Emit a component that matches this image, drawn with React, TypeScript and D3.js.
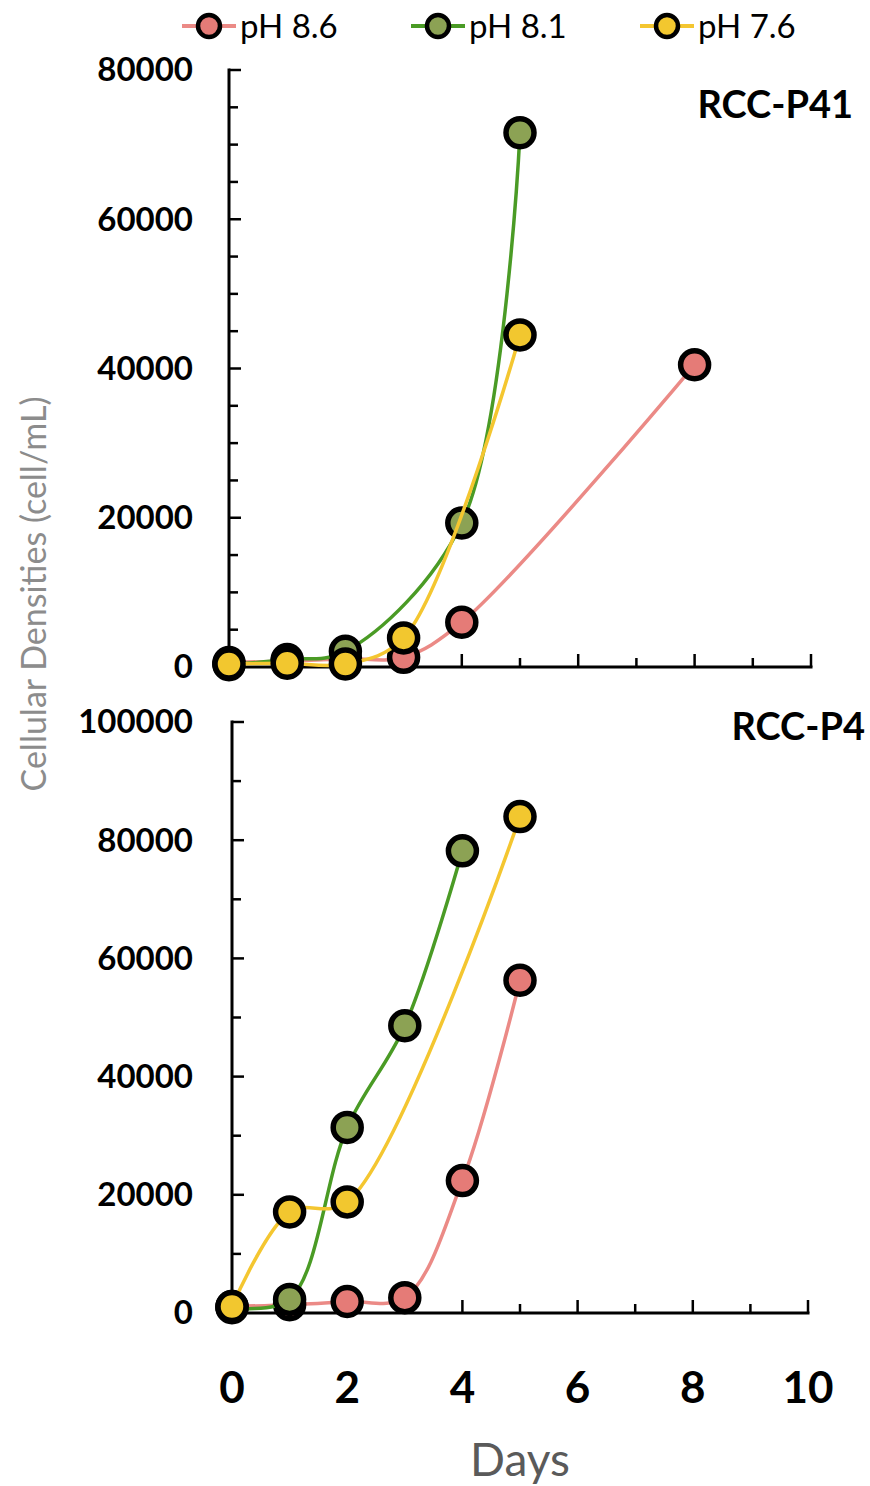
import React from "react";
import * as d3 from "d3";

// ---- Data ----
const seriesNames = ["pH 8.6", "pH 8.1", "pH 7.6"];
const lineColors = ["#EB8A86", "#4A9B25", "#F4C630"];
const fillColors = ["#E57B77", "#8CA254", "#F2C72F"];

// Top panel: RCC-P41
const topDays86 = [0, 1, 2, 3, 4, 8];
const topVals86 = [600, 800, 1100, 1300, 6000, 40500];
const topDays81 = [0, 1, 2, 4, 5];
const topVals81 = [300, 1000, 2100, 19300, 71600];
const topDays76 = [0, 1, 2, 3, 5];
const topVals76 = [400, 500, 400, 3900, 44500];

// Bottom panel: RCC-P4
const botDays86 = [0, 1, 2, 3, 4, 5];
const botVals86 = [1100, 1400, 1950, 2600, 22400, 56300];
const botDays81 = [0, 1, 2, 3, 4];
const botVals81 = [900, 2300, 31400, 48600, 78200];
const botDays76 = [0, 1, 2, 5];
const botVals76 = [1100, 17100, 18800, 84000];

const topYTicks = [0, 20000, 40000, 60000, 80000];
const botYTicks = [0, 20000, 40000, 60000, 80000, 100000];
const xTicks = [0, 2, 4, 6, 8, 10];

const FONT = "Lato, 'Open Sans', sans-serif";

type Panel = {
  title: string;
  x0: number; x1: number; y0: number; y1: number;
  ymax: number; minorStep: number; yTicks: number[];
  series: { days: number[]; vals: number[] }[];
  titleX: number; titleY: number;
  showXLabels: boolean;
};

const panels: Panel[] = [
  {
    title: "RCC-P41", x0: 229, x1: 811, y0: 667, y1: 70, ymax: 80000, minorStep: 5000,
    yTicks: topYTicks,
    series: [
      { days: topDays86, vals: topVals86 },
      { days: topDays81, vals: topVals81 },
      { days: topDays76, vals: topVals76 },
    ],
    titleX: 853, titleY: 118, showXLabels: false,
  },
  {
    title: "RCC-P4", x0: 232, x1: 808, y0: 1313, y1: 722, ymax: 100000, minorStep: 10000,
    yTicks: botYTicks,
    series: [
      { days: botDays86, vals: botVals86 },
      { days: botDays81, vals: botVals81 },
      { days: botDays76, vals: botVals76 },
    ],
    titleX: 865, titleY: 740, showXLabels: true,
  },
];

function PanelView({ p }: { p: Panel }) {
  const x = d3.scaleLinear().domain([0, 10]).range([p.x0, p.x1]);
  const y = d3.scaleLinear().domain([0, p.ymax]).range([p.y0, p.y1]);
  const minor = d3.range(0, p.ymax + 1, p.minorStep);
  const xMinor = d3.range(0, 11, 1);
  const line = d3
    .line<[number, number]>()
    .x((d) => x(d[0]))
    .y((d) => y(d[1]))
    .curve(d3.curveCatmullRom.alpha(0.5));
  return (
    <g>
      {/* y axis */}
      <line x1={p.x0} x2={p.x0} y1={y(p.ymax) - 1.5} y2={p.y0 + 1.5} stroke="#000" strokeWidth={3} />
      {minor.map((v) => {
        const major = p.yTicks.includes(v);
        return (
          <line key={"ym" + v} x1={p.x0} x2={p.x0 + (major ? 12 : 9)} y1={y(v)} y2={y(v)} stroke="#000" strokeWidth={2.5} />
        );
      })}
      {p.yTicks.map((v) => (
        <text key={"yl" + v} x={193} y={y(v) + 3} textAnchor="end" dominantBaseline="middle"
          fontFamily={FONT} fontWeight="bold" fontSize={33} fill="#000">{v}</text>
      ))}
      {/* x axis */}
      <line x1={p.x0 - 1.5} x2={p.x1 + 1.5} y1={p.y0} y2={p.y0} stroke="#000" strokeWidth={3} />
      {xMinor.map((d) => {
        const major = d % 2 === 0;
        return (
          <line key={"xm" + d} x1={x(d)} x2={x(d)} y1={p.y0} y2={p.y0 - (major ? 13 : 9)} stroke="#000" strokeWidth={2.5} />
        );
      })}
      {p.showXLabels && xTicks.map((d) => (
        <text key={"xl" + d} x={x(d)} y={1403} textAnchor="middle"
          fontFamily={FONT} fontWeight="bold" fontSize={44} fill="#000">{d}</text>
      ))}
      {/* series */}
      {p.series.map((s, i) => {
        const pts: [number, number][] = s.days.map((d, j) => [d, s.vals[j]]);
        return (
          <g key={"s" + i}>
            <path d={line(pts) || ""} fill="none" stroke={lineColors[i]} strokeWidth={3.5} />
            {pts.map((pt, j) => (
              <circle key={j} cx={x(pt[0])} cy={y(pt[1])} r={14} fill={fillColors[i]} stroke="#000" strokeWidth={5.5} />
            ))}
          </g>
        );
      })}
      <text x={p.titleX} y={p.titleY} textAnchor="end" fontFamily={FONT} fontWeight="bold" fontSize={38} fill="#000">{p.title}</text>
    </g>
  );
}

const legendX = [209, 438, 667];

export default function App() {
  return (
    <svg width={870} height={1486} style={{ position: "absolute", left: 0, top: 0, background: "#fff" }}>
      <rect width={870} height={1486} fill="#fff" />
      {seriesNames.map((n, i) => (
        <g key={n}>
          <line x1={legendX[i] - 27} x2={legendX[i] + 27} y1={26} y2={26} stroke={lineColors[i]} strokeWidth={4} />
          <circle cx={legendX[i]} cy={26} r={11} fill={fillColors[i]} stroke="#000" strokeWidth={4.5} />
          <text x={legendX[i] + 31} y={38} fontFamily={FONT} fontSize={33} fill="#000">{n}</text>
        </g>
      ))}
      {panels.map((p) => <PanelView key={p.title} p={p} />)}
      <text transform="translate(46,594) rotate(-90)" textAnchor="middle" fontFamily={FONT} fontSize={34} fill="#8C8C8C">
        Cellular Densities (cell/mL)
      </text>
      <text x={520} y={1476} textAnchor="middle" fontFamily={FONT} fontSize={46} fill="#5A5A5A">Days</text>
    </svg>
  );
}
